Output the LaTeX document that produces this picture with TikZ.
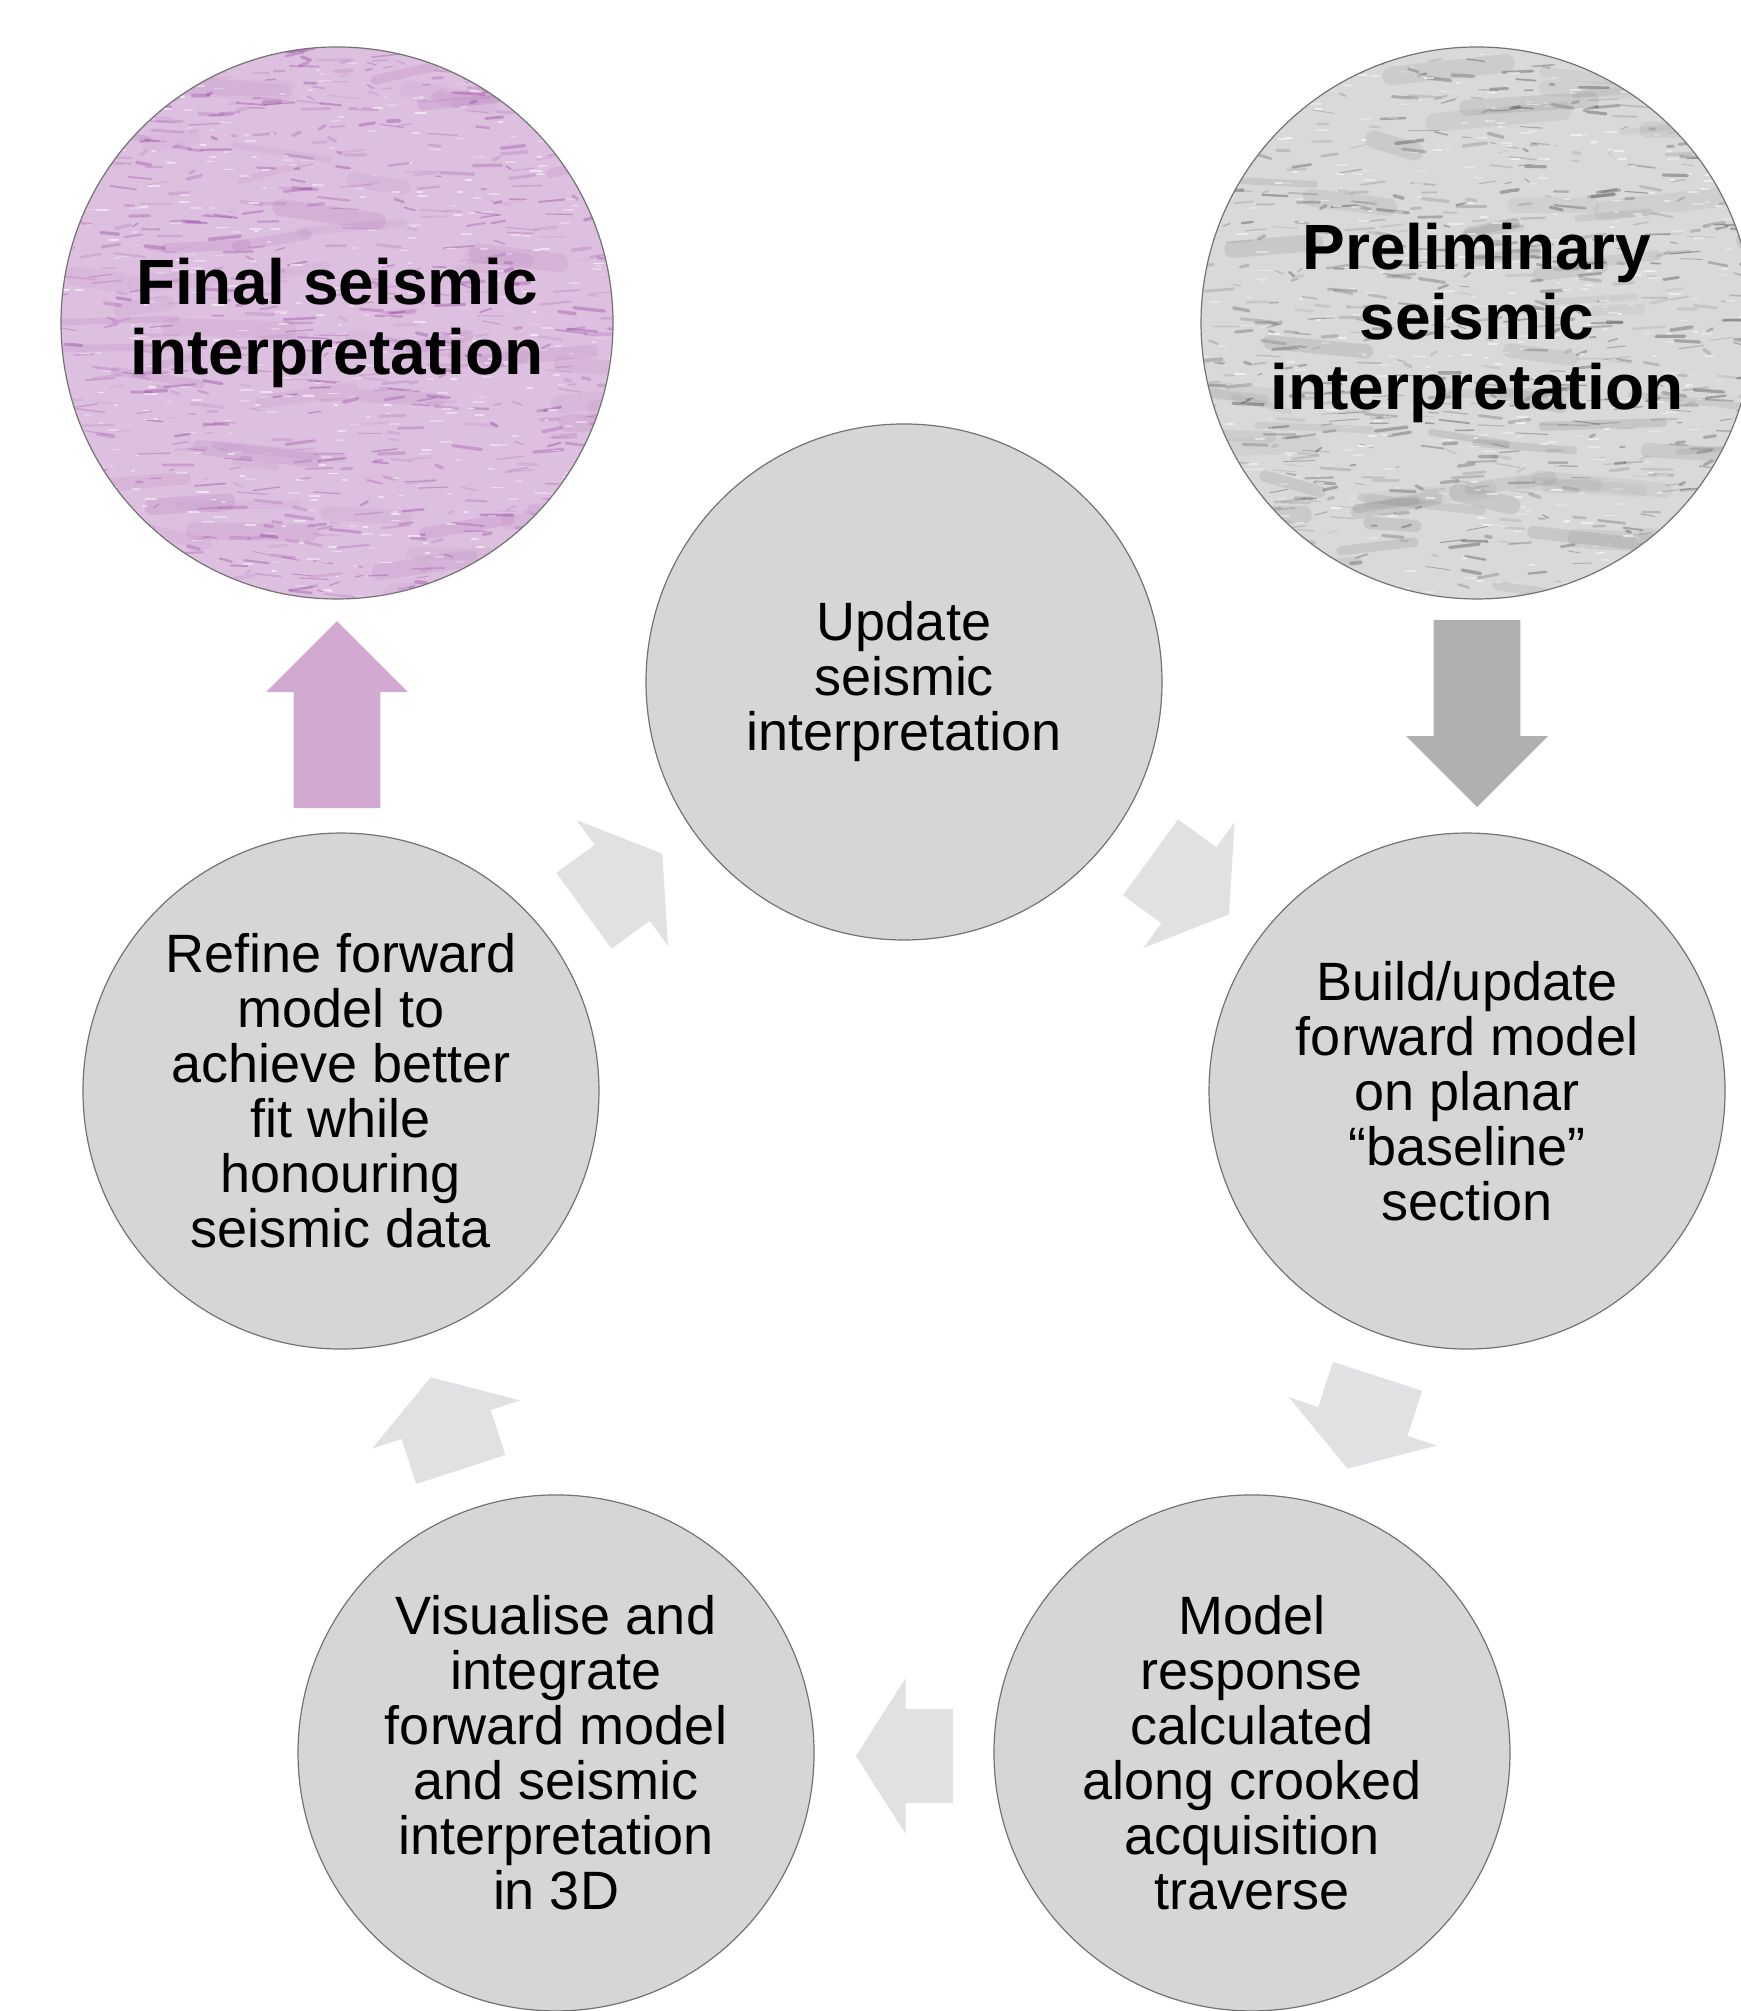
\documentclass[tikz,border=0pt]{standalone}
\usepackage{fontspec}
\setmainfont{Liberation Sans}
\usetikzlibrary{positioning, shapes.arrows, calc}
\definecolor{stepfill}{gray}{0.84}
\definecolor{stepline}{gray}{0.45}
\definecolor{cyclefill}{HTML}{E1E0E3}
\definecolor{finalfill}{HTML}{DDC0DF}
\definecolor{finalstreak}{HTML}{8E3C9A}
\definecolor{prelimfill}{HTML}{D9D9D9}
\definecolor{prelimstreak}{HTML}{3C3C3C}
\definecolor{finalarrow}{HTML}{D2AAD1}
\definecolor{prelimarrow}{HTML}{AFAFAF}

% soft bands, fine streaks and speckle that stand in for a seismic section
\newcommand{\seisnoise}[1]{%
  \foreach \k in {1,...,70}{%
    \pgfmathsetmacro{\sx}{150*rand}%
    \pgfmathsetmacro{\sy}{140*rand}%
    \pgfmathsetmacro{\sl}{20+45*rnd}%
    \pgfmathsetmacro{\st}{8*rand}%
    \pgfmathsetmacro{\sw}{3+7*rnd}%
    \pgfmathsetmacro{\so}{0.04+0.08*rnd}%
    \draw[#1, line width=\sw pt, opacity=\so, line cap=round]
      ($(path picture bounding box.center)+(\sx pt,\sy pt)$) -- ++(\sl pt,\st pt);
  }%
  \foreach \k in {1,...,700}{%
    \pgfmathsetmacro{\sx}{140*rand}%
    \pgfmathsetmacro{\sy}{140*rand}%
    \pgfmathsetmacro{\sl}{2+14*rnd}%
    \pgfmathsetmacro{\st}{2*rand}%
    \pgfmathsetmacro{\sw}{0.4+1.4*rnd}%
    \pgfmathsetmacro{\so}{0.08+0.3*rnd}%
    \draw[#1, line width=\sw pt, opacity=\so, line cap=round]
      ($(path picture bounding box.center)+(\sx pt,\sy pt)$) -- ++(\sl pt,\st pt);
  }%
  \foreach \k in {1,...,500}{%
    \pgfmathsetmacro{\sx}{140*rand}%
    \pgfmathsetmacro{\sy}{140*rand}%
    \pgfmathsetmacro{\sl}{1+5*rnd}%
    \pgfmathsetmacro{\so}{0.2+0.4*rnd}%
    \draw[white, line width=0.9pt, opacity=\so, line cap=round]
      ($(path picture bounding box.center)+(\sx pt,\sy pt)$) -- ++(\sl pt,0);
  }%
}

\tikzset{
  stepnode/.style   = {circle, draw=stepline, line width=0.6pt, fill=stepfill,
                       minimum size=258pt, inner sep=0pt, align=center,
                       font=\fontsize{27}{27.5}\selectfont},
  endnode/.style    = {circle, draw=stepline, line width=0.6pt,
                       minimum size=276pt, inner sep=0pt, align=center,
                       font=\fontsize{32}{35}\selectfont\bfseries},
  cyclearrow/.style = {single arrow, fill=cyclefill, minimum height=48.5pt,
                       inner xsep=0pt, inner ysep=23.25pt,
                       single arrow head extend=15.5pt,
                       single arrow tip angle=115, anchor=tip},
  bigarrow/.style   = {single arrow, minimum height=93.5pt, inner xsep=0pt,
                       inner ysep=21.5pt, single arrow head extend=13.75pt,
                       single arrow tip angle=90}
}

\begin{document}
\begin{tikzpicture}[x=0.5pt, y=0.5pt]
  \useasboundingbox (0,0) rectangle (1740,2011);
  \pgfmathsetseed{42}
  \coordinate (hub) at (904,737);

  % the five steps of the loop
  \node[stepnode] (upd) at ($(hub)+(90:592)$)
        {Update\\seismic\\interpretation};
  \node[stepnode] (bld) at ($(hub)+(18:592)$)
        {Build/update\\forward model\\on planar\\“baseline”\\section};
  \node[stepnode] (mdl) at ($(hub)+(-54:592)$)
        {Model\\response\\calculated\\along crooked\\acquisition\\traverse};
  \node[stepnode] (vis) at ($(hub)+(-126:592)$)
        {Visualise and\\integrate\\forward model\\and seismic\\interpretation\\in 3D};
  \node[stepnode] (ref) at ($(hub)+(162:592)$)
        {Refine forward\\model to\\achieve better\\fit while\\honouring\\seismic data};

  % arrows round the loop, placed by their tips
  \node[cyclearrow, rotate=-36]  (upd-bld) at ($(hub)+(54:482)+(-36:52)$)     {};
  \node[cyclearrow, rotate=-108] (bld-mdl) at ($(hub)+(-18:482)+(-108:48.5)$) {};
  \node[cyclearrow, rotate=180]  (mdl-vis) at ($(hub)+(-90:482)+(180:48.5)$)  {};
  \node[cyclearrow, rotate=108]  (vis-ref) at ($(hub)+(-162:482)+(108:48.5)$) {};
  \node[cyclearrow, rotate=36]   (ref-upd) at ($(hub)+(126:482)+(36:52)$)     {};

  % way in and way out
  \node[endnode, fill=prelimfill, path picture={\seisnoise{prelimstreak}}]
        (prelim) at (1477,1688) {Preliminary\\seismic\\interpretation};
  \node[endnode, fill=finalfill, path picture={\seisnoise{finalstreak}}]
        (final) at (337,1688) {Final seismic\\interpretation};

  \node[bigarrow, fill=prelimarrow, rotate=-90, anchor=tail] (in)
        at ([yshift=-10pt]prelim.south) {};
  \node[bigarrow, fill=finalarrow, rotate=90, anchor=tip] (out)
        at ([yshift=-10.5pt]final.south) {};
\end{tikzpicture}
\end{document}
